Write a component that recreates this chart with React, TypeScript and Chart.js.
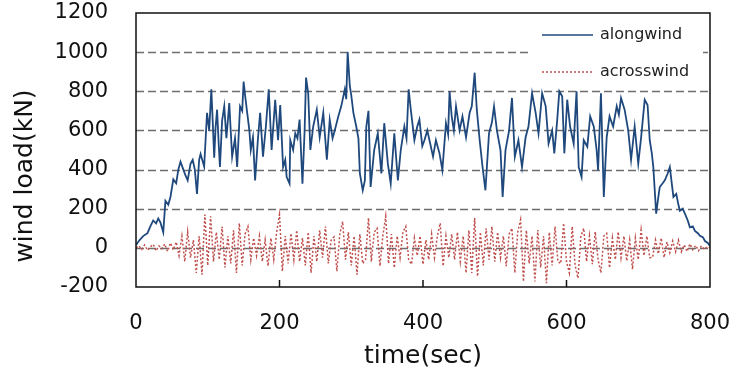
import { useEffect, useRef } from "react";
import { Chart, registerables } from "chart.js";

Chart.register(...registerables);

const seriesNames = ["alongwind", "acrosswind"];
const xTickValues = [0, 200, 400, 600, 800];
const yTickValues = [-200, 0, 200, 400, 600, 800, 1000, 1200];

const alongTime = [
  0, 5, 10, 16, 20, 24, 28, 31, 34, 38, 41, 45, 48, 52, 56, 59, 62, 66, 69, 72,
  76, 79, 82, 85, 88, 90, 95, 99, 102, 105, 107, 109, 111, 113, 115, 117, 120, 123, 126, 130,
  132, 134, 138, 141, 145, 148, 150, 152, 155, 158, 160, 163, 166, 170, 173, 177, 181, 185, 189, 194,
  198, 201, 205, 208, 210, 214, 215, 219, 222, 225, 228, 232, 235, 237, 240, 243, 247, 252, 256, 261,
  266, 270, 274, 277, 282, 286, 291, 293, 295, 298, 300, 303, 307, 310, 312, 316, 319, 321, 324, 327,
  332, 337, 342, 346, 351, 355, 360, 365, 369, 374, 377, 380, 383, 388, 392, 395, 399, 402, 406, 409,
  414, 418, 423, 427, 432, 435, 437, 440, 443, 446, 451, 455, 460, 465, 468, 472, 475, 479, 483, 487,
  492, 496, 499, 503, 508, 511, 515, 520, 524, 528, 533, 538, 543, 547, 552, 557, 561, 566, 571, 575,
  580, 583, 587, 590, 594, 597, 601, 605, 610, 614, 617, 621, 624, 629, 633, 638, 642, 644, 648, 652,
  656, 660, 665, 670, 673, 676, 681, 686, 690, 695, 700, 704, 709, 713, 716, 719, 721, 725, 728, 730,
  734, 737, 741, 744, 749, 753, 756, 758, 762, 765, 769, 772, 776, 779, 783, 786, 790, 793, 797, 800,
];
const alongLoad = [
  15, 40, 60, 75, 110, 140, 125, 150, 130, 80, 240, 220, 260, 350, 330, 400, 440, 400, 370, 345,
  430, 450, 400, 276, 450, 480, 415, 690, 600, 810, 640, 460, 620, 706, 550, 413, 650, 723, 560, 740,
  600, 466, 560, 413, 723, 700, 850, 780, 690, 600, 500, 565, 345, 560, 690, 466, 620, 810, 500, 757,
  550, 730, 413, 450, 362, 328, 550, 500, 585, 560, 655, 328, 600, 870, 790, 500, 620, 706, 565, 690,
  450, 655, 560, 600, 672, 723, 810, 760, 1000, 827, 780, 690, 620, 560, 380, 294, 345, 620, 700, 311,
  500, 585, 380, 637, 430, 328, 585, 345, 500, 620, 560, 810, 706, 550, 620, 655, 520, 550, 600, 550,
  466, 550, 483, 397, 637, 580, 800, 672, 600, 723, 600, 672, 565, 690, 723, 895, 706, 550, 413, 294,
  585, 640, 723, 600, 500, 260, 500, 600, 766, 466, 550, 413, 565, 620, 790, 690, 585, 790, 723, 533,
  600, 483, 650, 800, 775, 483, 757, 620, 533, 800, 413, 362, 550, 517, 672, 620, 500, 397, 790, 260,
  565, 672, 620, 723, 680, 766, 706, 600, 450, 620, 430, 565, 757, 730, 550, 480, 413, 175, 260, 311,
  330, 345, 380, 413, 260, 276, 220, 190, 200, 175, 140, 105, 110, 87, 75, 62, 55, 35, 25, 10,
];

const acrossTime = [
  0, 4, 8, 12, 16, 20, 24, 28, 32, 36, 40, 44, 48, 52, 56, 60, 64, 68, 72, 76,
  80, 84, 88, 92, 96, 100, 104, 108, 112, 116, 120, 124, 128, 132, 136, 140, 144, 148, 152, 156,
  160, 164, 168, 172, 176, 180, 184, 188, 192, 196, 200, 204, 208, 212, 216, 220, 224, 228, 232, 236,
  240, 244, 248, 252, 256, 260, 264, 268, 272, 276, 280, 284, 288, 292, 296, 300, 304, 308, 312, 316,
  320, 324, 328, 332, 336, 340, 344, 348, 352, 356, 360, 364, 368, 372, 376, 380, 384, 388, 392, 396,
  400, 404, 408, 412, 416, 420, 424, 428, 432, 436, 440, 444, 448, 452, 456, 460, 464, 468, 472, 476,
  480, 484, 488, 492, 496, 500, 504, 508, 512, 516, 520, 524, 528, 532, 536, 540, 544, 548, 552, 556,
  560, 564, 568, 572, 576, 580, 584, 588, 592, 596, 600, 604, 608, 612, 616, 620, 624, 628, 632, 636,
  640, 644, 648, 652, 656, 660, 664, 668, 672, 676, 680, 684, 688, 692, 696, 700, 704, 708, 712, 716,
  720, 724, 728, 732, 736, 740, 744, 748, 752, 756, 760, 764, 768, 772, 776, 780, 784, 788, 792, 796,
  800,
];
const acrossLoad = [
  0, 10, -8, 15, -12, 5, 18, -15, 10, -5, 20, -18, 25, -10, 30, -40, 60, -70, 82, -50,
  40, -128, 60, -137, 170, -90, 161, -70, 80, -60, 109, -100, 60, -80, 90, -128, 126, -90, 70, 109,
  -60, 50, -40, 60, -70, 40, -93, 50, -60, 80, 170, -119, 60, -80, 74, -60, 90, -70, 50, -90,
  80, -128, 60, -70, 90, -50, 109, -80, 40, 56, -119, 70, 135, -60, 80, -90, 60, -137, 70, -80,
  -60, 153, -70, 80, 100, -93, 60, 161, -80, 70, -102, 60, -50, 80, 109, -60, -84, 50, -40, 60,
  -84, 40, -60, 70, -50, 60, 126, -93, 60, -50, 70, -60, 80, -70, 60, -128, 90, -128, 153, -146,
  80, -90, 100, -60, 109, -70, 80, -50, 60, -93, 70, 100, -128, 80, 144, -172, 90, -80, 60, -172,
  91, -100, 60, -180, 80, -90, 109, -70, -80, 126, -70, -128, 109, -90, -155, 60, 100, -70, 60, -84,
  82, -60, -128, 60, 74, -102, 50, -60, 82, -50, 60, -67, 40, -110, 50, -60, 91, -40, 60, -50,
  -49, 40, -30, 50, -49, 30, -25, 35, -20, 39, -20, 15, -18, 20, -10, 12, -15, 10, -8, 5,
  0,
];

const BLUE = "#1F497D";
const RED = "#C0504D";
const FONT = "'DejaVu Sans', sans-serif";

const decorPlugin = {
  id: "decor",
  beforeDatasetsDraw(chart: any) {
    const { ctx, chartArea, scales } = chart;
    ctx.save();
    ctx.strokeStyle = "#6e6e6e";
    ctx.lineWidth = 1.3;
    ctx.setLineDash([8, 4]);
    yTickValues.slice(1, -1).forEach((v) => {
      const py = Math.round(scales.y.getPixelForValue(v)) + 0.5;
      ctx.beginPath();
      ctx.moveTo(chartArea.left, py);
      ctx.lineTo(chartArea.right, py);
      ctx.stroke();
    });
    ctx.restore();
  },
  afterDatasetsDraw(chart: any) {
    const { ctx, chartArea, scales } = chart;
    ctx.save();
    // plot frame
    ctx.strokeStyle = "#111";
    ctx.lineWidth = 1.5;
    ctx.setLineDash([]);
    ctx.strokeRect(chartArea.left, chartArea.top, chartArea.right - chartArea.left, chartArea.bottom - chartArea.top);
    // inner x tick marks
    ctx.beginPath();
    xTickValues.slice(1, -1).forEach((v) => {
      const px = scales.x.getPixelForValue(v);
      ctx.moveTo(px, chartArea.bottom);
      ctx.lineTo(px, chartArea.bottom - 7);
    });
    ctx.stroke();
    // legend
    ctx.fillStyle = "#fff";
    ctx.fillRect(530, 19, 173, 66);
    const rows = [
      { y: 35, color: BLUE, dash: [] as number[] },
      { y: 72, color: RED, dash: [2, 2] },
    ];
    rows.forEach((r, i) => {
      ctx.beginPath();
      ctx.strokeStyle = r.color;
      ctx.lineWidth = 1.5;
      ctx.setLineDash(r.dash);
      ctx.moveTo(542, r.y);
      ctx.lineTo(593, r.y);
      ctx.stroke();
      ctx.setLineDash([]);
      ctx.fillStyle = "#222";
      ctx.font = `16px ${FONT}`;
      ctx.textAlign = "left";
      ctx.textBaseline = "middle";
      ctx.fillText(seriesNames[i], 600, r.y);
    });
    // y axis title
    ctx.translate(25, 176);
    ctx.rotate(-Math.PI / 2);
    ctx.fillStyle = "#111";
    ctx.font = `25px ${FONT}`;
    ctx.textAlign = "center";
    ctx.textBaseline = "middle";
    ctx.fillText("wind load(kN)", 0, 0);
    ctx.restore();
  },
};

export default function App() {
  const ref = useRef<HTMLCanvasElement>(null);
  useEffect(() => {
    if (!ref.current) return;
    const chart = new Chart(ref.current, {
      type: "line",
      data: {
        datasets: [
          {
            label: seriesNames[0],
            data: alongTime.map((t, i) => ({ x: t, y: alongLoad[i] })),
            borderColor: BLUE,
            borderWidth: 1.8,
            pointRadius: 0,
            tension: 0,
            order: 2,
          },
          {
            label: seriesNames[1],
            data: acrossTime.map((t, i) => ({ x: t, y: acrossLoad[i] })),
            borderColor: RED,
            borderWidth: 1.5,
            borderDash: [2, 2],
            pointRadius: 0,
            tension: 0,
            order: 1,
          },
        ],
      },
      options: {
        responsive: false,
        animation: false,
        layout: { padding: { top: 13, right: 31, left: 0, bottom: 0 } },
        plugins: { legend: { display: false }, tooltip: { enabled: false } },
        scales: {
          x: {
            type: "linear",
            min: 0,
            max: 800,
            afterBuildTicks: (s: any) => {
              s.ticks = xTickValues.map((v) => ({ value: v }));
            },
            afterFit: (s: any) => {
              s.height = 94;
            },
            ticks: {
              font: { size: 21, family: FONT },
              color: "#111",
              padding: 0,
              maxRotation: 0,
              callback: (v: any) => String(v),
            },
            grid: { display: false, drawTicks: true, tickLength: 24 },
            border: { display: false },
            title: {
              display: true,
              text: "time(sec)",
              font: { size: 25, family: FONT },
              color: "#111",
              padding: { top: 0, bottom: 10 },
            },
          },
          y: {
            min: -200,
            max: 1200,
            afterBuildTicks: (s: any) => {
              s.ticks = yTickValues.map((v) => ({ value: v }));
            },
            afterFit: (s: any) => {
              s.width = 136;
            },
            ticks: {
              font: { size: 21, family: FONT },
              color: "#111",
              padding: 0,
              callback: (v: any) => String(v),
            },
            grid: {
              display: false,
              drawOnChartArea: false,
              drawTicks: true,
              tickLength: 28,
            },
            border: { display: false },
          },
        },
      },
      plugins: [decorPlugin],
    });
    return () => chart.destroy();
  }, []);
  return (
    <div style={{ position: "fixed", left: 0, top: 0, width: 741, height: 381, background: "#fff" }}>
      <canvas ref={ref} width={741} height={381} style={{ display: "block" }} />
    </div>
  );
}
